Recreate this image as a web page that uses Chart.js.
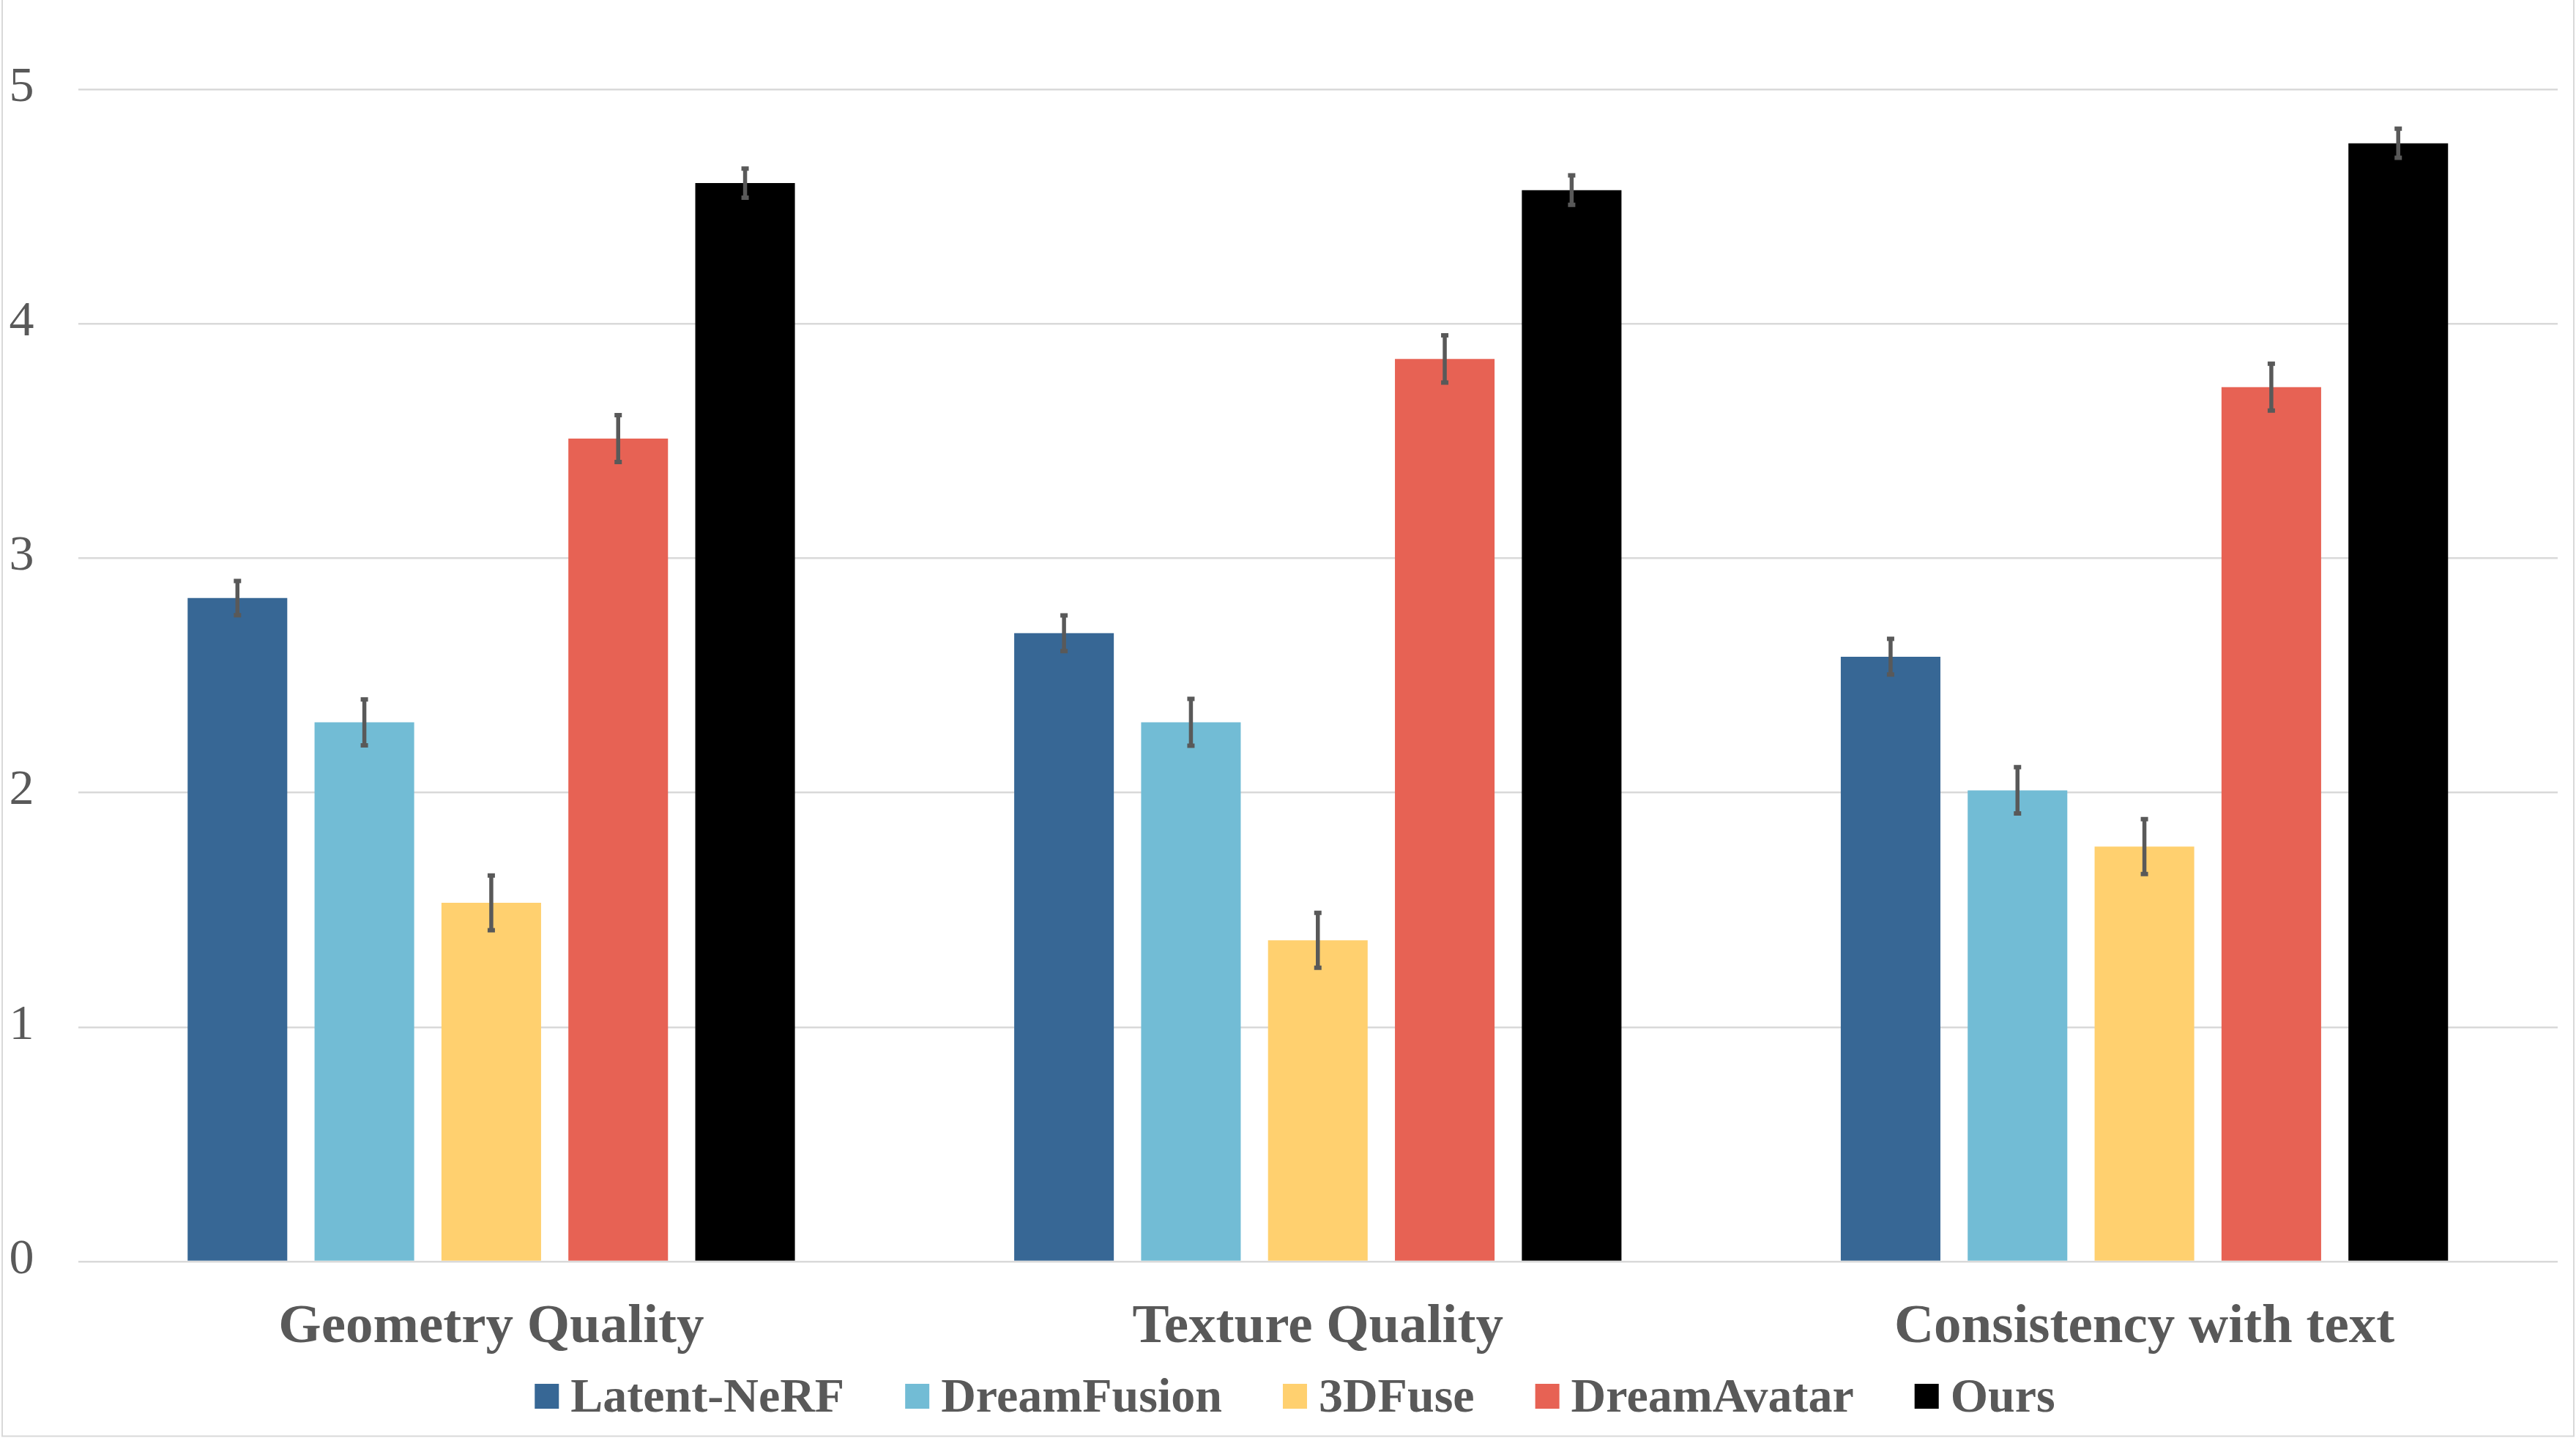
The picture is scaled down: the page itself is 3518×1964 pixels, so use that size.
<!DOCTYPE html>
<html><head><meta charset="utf-8">
<script src="https://cdn.jsdelivr.net/npm/chart.js@4.4.1/dist/chart.umd.min.js"></script>
<style>html,body{margin:0;padding:0;background:#fff;overflow:hidden}canvas{display:block}</style>
</head><body>
<canvas id="c" width="3518" height="1964"></canvas>
<script>
const categories = ['Geometry Quality', 'Texture Quality', 'Consistency with text'];
const seriesNames = ['Latent-NeRF', 'DreamFusion', '3DFuse', 'DreamAvatar', 'Ours'];
const latentNerf = [2.83, 2.68, 2.58];
const dreamFusion = [2.30, 2.30, 2.01];
const fuse3d = [1.53, 1.37, 1.77];
const dreamAvatar = [3.51, 3.85, 3.73];
const ours = [4.60, 4.57, 4.77];
const latentNerfErr = [0.073, 0.076, 0.076];
const dreamFusionErr = [0.098, 0.100, 0.099];
const fuse3dErr = [0.117, 0.117, 0.117];
const dreamAvatarErr = [0.100, 0.101, 0.100];
const oursErr = [0.062, 0.063, 0.062];
const yTicks = [0, 1, 2, 3, 4, 5];
const colors = ['#376795', '#72BCD5', '#FFD06F', '#E76254', '#000000'];

const seriesValues = [latentNerf, dreamFusion, fuse3d, dreamAvatar, ours];
const seriesErrors = [latentNerfErr, dreamFusionErr, fuse3dErr, dreamAvatarErr, oursErr];

const FONT = '"Liberation Serif", "Times New Roman", serif';
const TEXT = '#595959';

const bgPlugin = {
  id: 'bg',
  beforeDraw(chart) {
    const ctx = chart.ctx;
    ctx.save();
    ctx.fillStyle = '#ffffff';
    ctx.fillRect(0, 0, chart.width, chart.height);
    ctx.strokeStyle = '#d9d9d9';
    ctx.lineWidth = 2;
    ctx.beginPath();
    ctx.moveTo(3, 0); ctx.lineTo(3, chart.height - 2.5);
    ctx.lineTo(chart.width - 3, chart.height - 2.5);
    ctx.lineTo(chart.width - 3, 0);
    ctx.stroke();
    ctx.restore();
  }
};

const errorBarPlugin = {
  id: 'errorBars',
  afterDatasetsDraw(chart) {
    const ctx = chart.ctx;
    const yScale = chart.scales.y;
    ctx.save();
    ctx.strokeStyle = TEXT;
    ctx.lineCap = 'butt';
    chart.data.datasets.forEach((ds, i) => {
      const meta = chart.getDatasetMeta(i);
      meta.data.forEach((el, j) => {
        const v = ds.data[j];
        const e = ds.errors[j];
        const yt = yScale.getPixelForValue(v + e);
        const yb = yScale.getPixelForValue(v - e);
        const x = el.x;
        ctx.lineWidth = 5.5;
        ctx.beginPath();
        ctx.moveTo(x, yt); ctx.lineTo(x, yb);
        ctx.stroke();
        ctx.lineWidth = 6;
        ctx.beginPath();
        ctx.moveTo(x - 5, yt); ctx.lineTo(x + 5, yt);
        ctx.moveTo(x - 5, yb); ctx.lineTo(x + 5, yb);
        ctx.stroke();
      });
    });
    ctx.restore();
  }
};

const legendPlugin = {
  id: 'customLegend',
  afterDraw(chart) {
    const ctx = chart.ctx;
    ctx.save();
    ctx.font = 'bold 66px ' + FONT;
    const box = 33, gapText = 16, gapItem = 83;
    const items = chart.data.datasets.map(d => ({ text: d.label, color: d.backgroundColor, w: ctx.measureText(d.label).width }));
    const total = items.reduce((s, it) => s + box + gapText + it.w, 0) + gapItem * (items.length - 1);
    let x = 1768.5 - total / 2;
    ctx.textBaseline = 'alphabetic';
    ctx.textAlign = 'left';
    items.forEach(it => {
      ctx.fillStyle = it.color;
      ctx.fillRect(x, 1890, box, 34);
      ctx.fillStyle = TEXT;
      ctx.fillText(it.text, x + box + gapText, 1928);
      x += box + gapText + it.w + gapItem;
    });
    ctx.restore();
  }
};

new Chart(document.getElementById('c'), {
  type: 'bar',
  data: {
    labels: categories,
    datasets: seriesNames.map((name, i) => ({
      label: name,
      data: seriesValues[i],
      errors: seriesErrors[i],
      backgroundColor: colors[i],
      borderWidth: 0,
      categoryPercentage: 0.7677,
      barPercentage: 0.785
    }))
  },
  options: {
    responsive: false,
    devicePixelRatio: 1,
    animation: false,
    layout: { padding: { top: 122, right: 25, bottom: 0, left: 0 } },
    plugins: { legend: { display: false }, tooltip: { enabled: false } },
    scales: {
      x: {
        grid: { display: false, drawTicks: false },
        border: { display: false },
        ticks: {
          color: TEXT,
          font: { family: FONT, size: 75, weight: 'bold' },
          padding: 46,
          maxRotation: 0,
          autoSkip: false
        },
        afterFit(s) { s.height = 241; }
      },
      y: {
        min: 0,
        max: 5,
        afterBuildTicks(s) { s.ticks = yTicks.map(v => ({ value: v })); },
        grid: { color: '#d9d9d9', lineWidth: 2.5, drawTicks: false },
        border: { display: false },
        ticks: {
          color: TEXT,
          font: { family: FONT, size: 68 },
          padding: 60,
          labelOffset: -2
        },
        afterFit(s) { s.width = 106.5; }
      }
    }
  },
  plugins: [bgPlugin, errorBarPlugin, legendPlugin]
});
</script>
</body></html>
